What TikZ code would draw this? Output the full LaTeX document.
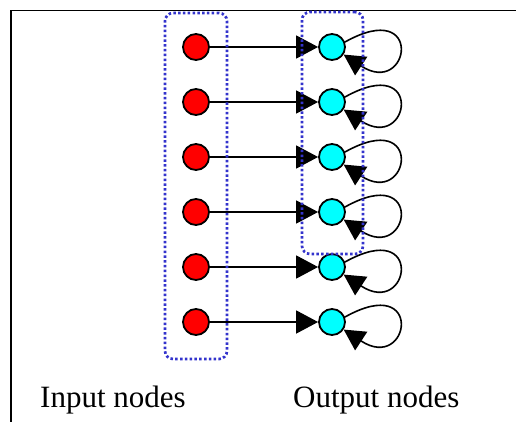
\documentclass[tikz,border=0pt]{standalone}
\usepackage{fontspec}
\setmainfont{Liberation Serif}
\usetikzlibrary{arrows.meta,calc}
\definecolor{nodered}{RGB}{255,0,0}
\definecolor{nodecyan}{RGB}{0,255,255}
\definecolor{boxblue}{RGB}{51,51,204}
\tikzset{
  innode/.style={circle,draw=black,line width=1.8pt,fill=nodered,minimum size=26pt,inner sep=0pt},
  outnode/.style={circle,draw=black,line width=1.8pt,fill=nodecyan,minimum size=26pt,inner sep=0pt},
  conn/.style={line width=1.6pt,-{Triangle[length=22pt 0 0,width=23pt 0 0]}},
  loopconn/.style={line width=1.6pt,-{Triangle[length=21pt 0 0,width=22pt 0 0]}},
  groupbox/.style={draw=boxblue,line width=2.7pt,dash pattern=on 2.5pt off 2.3pt,rounded corners=8pt},
  lbl/.style={font=\fontsize{31pt}{36pt}\selectfont,anchor=base west,inner sep=0pt}
}
\begin{document}
\begin{tikzpicture}[x=1pt,y=-1pt]
\useasboundingbox (0,0) rectangle (516,421);
\draw[line width=1.8pt] (11,430) -- (11,10.5) -- (530,10.5);
\foreach \i in {0,...,5}{
  \pgfmathsetmacro{\yy}{47+55*\i}
  \node[innode] (r\i) at (196,\yy) {};
  \node[outnode] (c\i) at (332,\yy) {};
  \draw[conn] (r\i) -- (c\i);
  \draw[loopconn] (c\i.21) .. controls ($(c\i)+(93,-50)$) and ($(c\i)+(78,51)$) .. (c\i.-33);
}
\node[groupbox,minimum width=62pt,minimum height=346pt,inner sep=0pt] (gin) at (196,186) {};
\node[groupbox,minimum width=61pt,minimum height=242pt,inner sep=0pt] (gout) at (332.5,133) {};
\node[lbl] (tin) at (40,407) {Input nodes};
\node[lbl] (tout) at (293,407) {Output nodes};
\end{tikzpicture}
\end{document}
